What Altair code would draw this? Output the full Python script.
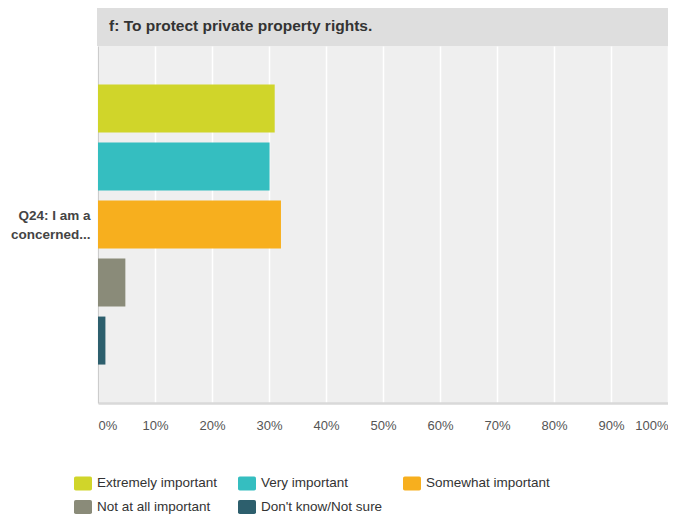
import altair as alt
import pandas as pd

question = "Q24: I am a concerned..."
header = "f: To protect private property rights."
responses = ["Extremely important", "Very important", "Somewhat important",
             "Not at all important", "Don't know/Not sure"]
percents = [31.0, 30.1, 32.1, 4.8, 1.3]
colors = ["#d0d52a", "#35bec0", "#f7af1e", "#8a8b79", "#2d5f6d"]
tick_values = [0, 10, 20, 30, 40, 50, 60, 70, 80, 90, 100]

W, H = 570, 357
FONT = "Liberation Sans"

df = pd.DataFrame({"question": [question] * len(responses),
                   "response": responses, "percent": percents})

rounded = ("M-0.8,-0.78 L0.8,-0.78 Q1,-0.78 1,-0.58 L1,0.58 Q1,0.78 0.8,0.78 "
           "L-0.8,0.78 Q-1,0.78 -1,0.58 L-1,-0.58 Q-1,-0.78 -0.8,-0.78 Z")

bars = alt.Chart(df).mark_bar(size=48).encode(
    x=alt.X("percent:Q", scale=alt.Scale(domain=[0, 100], nice=False),
            axis=alt.Axis(values=tick_values, labelExpr="datum.value + '%'",
                          title=None, ticks=False, grid=True, gridColor="white",
                          gridWidth=1.5, domainColor="#d9d9d9", domainWidth=2.5,
                          labelFlush=True, labelPadding=16, labelFontSize=13,
                          labelColor="#555555", labelFont=FONT)),
    y=alt.Y("question:N", scale=alt.Scale(paddingInner=0, paddingOuter=0),
            axis=alt.Axis(title=None, ticks=False, grid=False,
                          domainColor="#cccccc", domainWidth=1.2,
                          labelExpr="[slice(datum.label, 0, 11), slice(datum.label, 12)]",
                          labelFontWeight="bold", labelFontSize=13.5,
                          labelColor="#444444", labelFont=FONT,
                          labelLineHeight=19, labelPadding=8, labelOffset=-9)),
    yOffset=alt.YOffset("response:N", sort=responses,
                        scale=alt.Scale(paddingInner=0.168, paddingOuter=0.66)),
    color=alt.Color("response:N", sort=responses,
                    scale=alt.Scale(domain=responses, range=colors),
                    legend=alt.Legend(title=None, orient="none", legendX=-24,
                                      legendY=428, columns=3, direction="horizontal",
                                      symbolType=rounded, symbolSize=324,
                                      symbolStrokeWidth=0, symbolOpacity=1,
                                      labelFontSize=13.5, labelColor="#333333",
                                      labelFont=FONT, labelOffset=5,
                                      columnPadding=20, rowPadding=7,
                                      labelLimit=300)),
)

hdf = pd.DataFrame({"title": [header]})
head_rect = alt.Chart(hdf).mark_rect(color="#dedede").encode(
    x=alt.value(-1), x2=alt.value(W), y=alt.value(-39), y2=alt.value(0))
head_text = alt.Chart(hdf).mark_text(
    align="left", baseline="middle", fontWeight="bold", fontSize=15.5,
    color="#333333", font=FONT).encode(
    text="title:N", x=alt.value(11), y=alt.value(-20))

chart = alt.layer(head_rect, head_text, bars).properties(
    width=W, height=H,
    padding={"left": 2, "top": -1, "right": 0, "bottom": 0}
).configure(background="white").configure_view(fill="#efefef", stroke=None)

chart.save("out.html", embed_options={"renderer": "svg", "actions": False})
